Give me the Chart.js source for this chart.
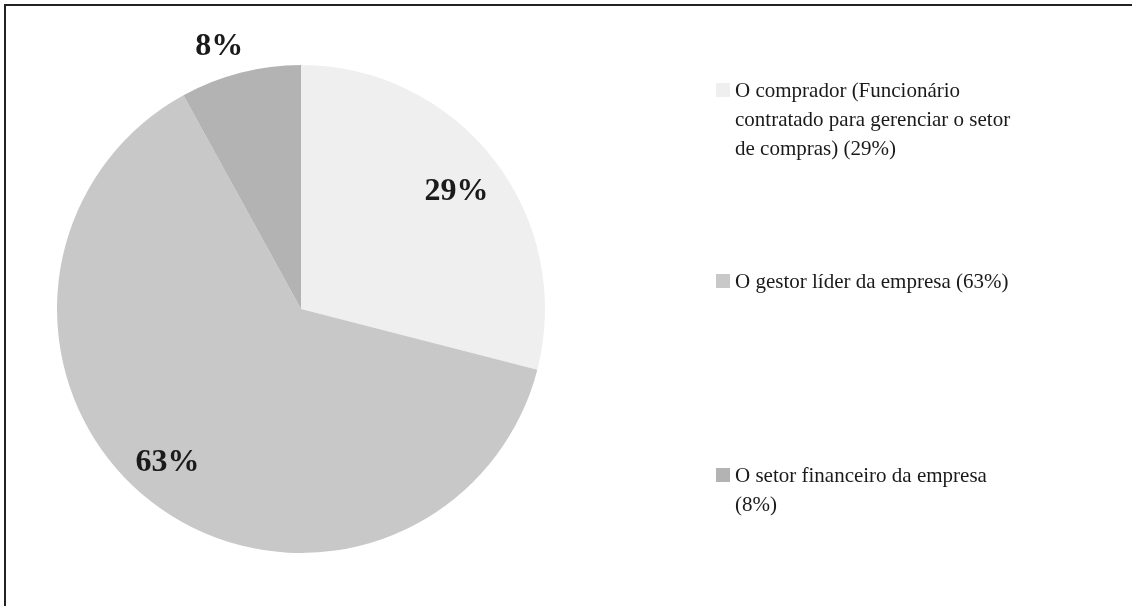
<!DOCTYPE html>
<html>
<head>
<meta charset="utf-8">
<script src="https://cdn.jsdelivr.net/npm/chart.js@4/dist/chart.umd.min.js"></script>
<style>
  html, body { margin: 0; padding: 0; background: #fff; }
  #wrap { position: relative; width: 1132px; height: 606px; }
</style>
</head>
<body>
<div id="wrap"><canvas id="chart" width="1132" height="606"></canvas></div>
<script>
// Who is responsible for purchasing decisions (share of answers)
const CATEGORIES = [
  ['O comprador (Funcionário', 'contratado para gerenciar o setor', 'de compras) (29%)'],
  ['O gestor líder da empresa (63%)'],
  ['O setor financeiro da empresa', '(8%)'],
];
const VALUES = [29, 63, 8];
const SLICE_LABELS = ['29%', '63%', '8%'];
const COLORS = ['#efefef', '#c8c8c9', '#b3b3b4'];

// where each percentage sits, as a fraction of the radius along the slice's mid angle
const LABEL_RADIUS = [0.8, 0.83, 1.13];
const LABEL_ANGLE_SHIFT = [0.01, 0.06, -0.05];

const SERIF = "'Liberation Serif', 'Times New Roman', serif";

const sliceLabels = {
  id: 'sliceLabels',
  afterDatasetsDraw(chart) {
    const ctx = chart.ctx;
    const arcs = chart.getDatasetMeta(0).data;
    ctx.save();
    ctx.font = `bold 32px ${SERIF}`;
    ctx.fillStyle = '#1a1a1a';
    ctx.textAlign = 'center';
    ctx.textBaseline = 'middle';
    arcs.forEach((arc, i) => {
      const { x, y, startAngle, endAngle, outerRadius } = arc.getProps(['x', 'y', 'startAngle', 'endAngle', 'outerRadius'], true);
      const mid = (startAngle + endAngle) / 2 + LABEL_ANGLE_SHIFT[i];
      const r = outerRadius * LABEL_RADIUS[i];
      ctx.fillText(SLICE_LABELS[i], x + Math.cos(mid) * r, y + Math.sin(mid) * r + 1);
    });
    ctx.restore();
  }
};

// legend on the right: square swatch + wrapped serif text
const sideLegend = {
  id: 'sideLegend',
  afterDraw(chart) {
    const ctx = chart.ctx;
    const baselines = [97, 288, 482];
    const lineH = 29;
    ctx.save();
    ctx.font = `21px ${SERIF}`;
    ctx.fillStyle = '#1a1a1a';
    ctx.textBaseline = 'alphabetic';
    CATEGORIES.forEach((lines, i) => {
      const base = baselines[i];
      ctx.fillStyle = COLORS[i];
      ctx.fillRect(716, base - 14, 14, 14);
      ctx.fillStyle = '#1a1a1a';
      lines.forEach((line, j) => ctx.fillText(line, 735, base + j * lineH));
    });

    // frame lines along top and left edges
    ctx.strokeStyle = '#222';
    ctx.lineWidth = 2;
    ctx.beginPath();
    ctx.moveTo(5, 606);
    ctx.lineTo(5, 5);
    ctx.lineTo(1132, 5);
    ctx.stroke();
    ctx.restore();
  }
};

new Chart(document.getElementById('chart'), {
  type: 'pie',
  data: {
    labels: CATEGORIES,
    datasets: [{
      data: VALUES,
      backgroundColor: COLORS,
      borderWidth: 0,
      hoverOffset: 0,
    }],
  },
  options: {
    responsive: false,
    animation: false,
    events: [],
    layout: { padding: { left: 57, top: 65, right: 587, bottom: 53 } },
    plugins: {
      legend: { display: false },
      tooltip: { enabled: false },
    },
  },
  plugins: [sliceLabels, sideLegend],
});
</script>
</body>
</html>
